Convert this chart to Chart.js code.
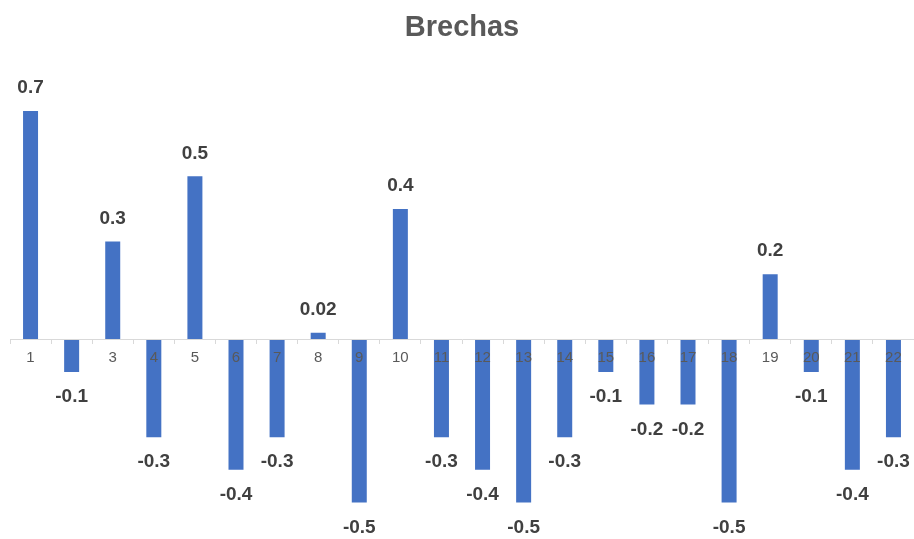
<!DOCTYPE html>
<html>
<head>
<meta charset="utf-8">
<title>Brechas</title>
<script src="https://cdn.jsdelivr.net/npm/chart.js@4/dist/chart.umd.min.js"></script>
<style>
  html, body { margin: 0; padding: 0; background: #ffffff; }
  #wrap { width: 914px; height: 539px; position: relative; }
</style>
</head>
<body>
<div id="wrap"><canvas id="chart"></canvas></div>
<script>
// Categories and gap values
const categories = ['1','2','3','4','5','6','7','8','9','10','11','12','13','14','15','16','17','18','19','20','21','22'];
const gaps = [0.7, -0.1, 0.3, -0.3, 0.5, -0.4, -0.3, 0.02, -0.5, 0.4, -0.3, -0.4, -0.5, -0.3, -0.1, -0.2, -0.2, -0.5, 0.2, -0.1, -0.4, -0.3];
// Labels printed along the zero line (category 2 carries none)
const tickLabels = ['1','','3','4','5','6','7','8','9','10','11','12','13','14','15','16','17','18','19','20','21','22'];
const chartTitle = 'Brechas';

const FONT = '"Liberation Sans", Arial, sans-serif';

// Value labels above positive bars and below negative ones
const valueLabels = {
  id: 'valueLabels',
  afterDatasetsDraw(chart) {
    const ctx = chart.ctx;
    const meta = chart.getDatasetMeta(0);
    const data = chart.data.datasets[0].data;
    ctx.save();
    ctx.font = 'bold 19px ' + FONT;
    ctx.fillStyle = '#404040';
    ctx.textAlign = 'center';
    ctx.textBaseline = 'middle';
    meta.data.forEach((bar, i) => {
      const v = data[i];
      const y = v >= 0 ? bar.y - 23 : bar.y + 25;
      ctx.fillText(String(v), bar.x, y);
    });
    ctx.restore();
  }
};

new Chart(document.getElementById('chart'), {
  type: 'bar',
  data: {
    labels: categories,
    datasets: [{
      data: gaps,
      backgroundColor: '#4472C4',
      borderWidth: 0,
      barPercentage: 0.365,
      categoryPercentage: 1.0
    }]
  },
  options: {
    responsive: true,
    maintainAspectRatio: false,
    animation: false,
    layout: { padding: { left: 10, right: 0, top: 0, bottom: 4 } },
    plugins: {
      legend: { display: false },
      tooltip: { enabled: false },
      title: {
        display: true,
        text: chartTitle,
        color: '#595959',
        font: { family: FONT, size: 29, weight: 'bold' },
        padding: { top: 11, bottom: 49 }
      }
    },
    scales: {
      x: {
        position: { y: 0 },
        offset: true,
        grid: {
          display: true,
          offset: true,
          drawOnChartArea: false,
          drawTicks: true,
          tickLength: 4,
          color: '#d9d9d9',
          tickColor: '#d9d9d9',
          z: 1
        },
        border: { display: true, color: '#d9d9d9', width: 1, z: 1 },
        ticks: {
          color: '#595959',
          font: { family: FONT, size: 15 },
          padding: 6,
          maxRotation: 0,
          autoSkip: false,
          z: 2,
          callback: (value, index) => tickLabels[index]
        }
      },
      y: {
        display: false,
        min: -0.6,
        max: 0.75
      }
    }
  },
  plugins: [valueLabels]
});
</script>
</body>
</html>
